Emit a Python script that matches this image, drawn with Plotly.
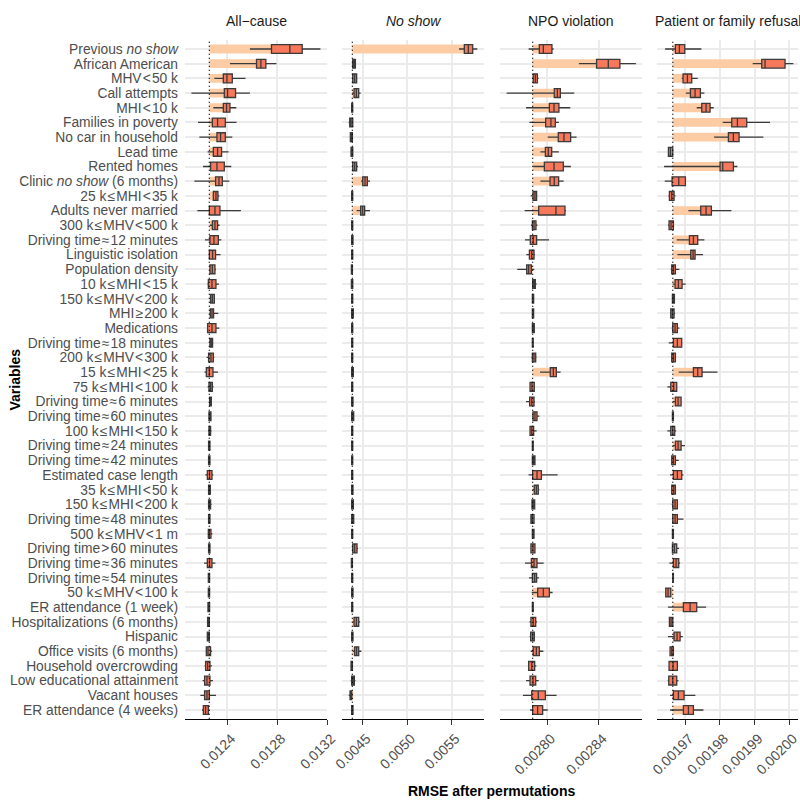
import plotly.graph_objects as go

HS = "\u200a"
variables = [
    "Previous <i>no show</i>", "African American", f"MHV{HS}&lt;{HS}50 k", "Call attempts",
    f"MHI{HS}&lt;{HS}10 k", "Families in poverty", "No car in household", "Lead time",
    "Rented homes", "Clinic <i>no show</i> (6 months)", f"25 k{HS}≤{HS}MHI{HS}&lt;{HS}35 k",
    "Adults never married", f"300 k{HS}≤{HS}MHV{HS}&lt;{HS}500 k", f"Driving time{HS}≈{HS}12 minutes",
    "Linguistic isolation", "Population density", f"10 k{HS}≤{HS}MHI{HS}&lt;{HS}15 k",
    f"150 k{HS}≤{HS}MHV{HS}&lt;{HS}200 k", f"MHI{HS}≥{HS}200 k", "Medications",
    f"Driving time{HS}≈{HS}18 minutes", f"200 k{HS}≤{HS}MHV{HS}&lt;{HS}300 k",
    f"15 k{HS}≤{HS}MHI{HS}&lt;{HS}25 k", f"75 k{HS}≤{HS}MHI{HS}&lt;{HS}100 k",
    f"Driving time{HS}≈{HS}6 minutes", f"Driving time{HS}≈{HS}60 minutes",
    f"100 k{HS}≤{HS}MHI{HS}&lt;{HS}150 k", f"Driving time{HS}≈{HS}24 minutes",
    f"Driving time{HS}≈{HS}42 minutes", "Estimated case length",
    f"35 k{HS}≤{HS}MHI{HS}&lt;{HS}50 k", f"150 k{HS}≤{HS}MHI{HS}&lt;{HS}200 k",
    f"Driving time{HS}≈{HS}48 minutes", f"500 k{HS}≤{HS}MHV{HS}&lt;{HS}1 m",
    f"Driving time{HS}&gt;{HS}60 minutes", f"Driving time{HS}≈{HS}36 minutes",
    f"Driving time{HS}≈{HS}54 minutes", f"50 k{HS}≤{HS}MHV{HS}&lt;{HS}100 k",
    "ER attendance (1 week)", "Hospitalizations (6 months)", "Hispanic",
    "Office visits (6 months)", "Household overcrowding", "Low educational attainment",
    "Vacant houses", "ER attendance (4 weeks)",
]

panel_titles = ["All\u2212cause", "<i>No show</i>", "NPO violation", "Patient or family refusal"]

# original (unpermuted) RMSE per outcome
baseline_rmse = [12255e-6, 4386e-6, 27887e-7, 196634e-8]

# ---- All-cause ----
allcause_low = [12580e-6,12420e-6,12295e-6,12111e-6,12287e-6,12164e-6,12175e-6,12241e-6,12204e-6,12135e-6,12281e-6,12159e-6,12260e-6,12220e-6,12249e-6,12255e-6,12239e-6,12260e-6,12255e-6,12236e-6,12257e-6,12233e-6,12217e-6,12241e-6,12252e-6,12249e-6,12244e-6,12244e-6,12247e-6,12223e-6,12247e-6,12244e-6,12247e-6,12241e-6,12247e-6,12212e-6,12244e-6,12244e-6,12241e-6,12236e-6,12233e-6,12225e-6,12217e-6,12201e-6,12183e-6,12196e-6]
allcause_q1 = [12753e-6,12633e-6,12367e-6,12375e-6,12367e-6,12279e-6,12316e-6,12287e-6,12265e-6,12305e-6,12287e-6,12255e-6,12279e-6,12260e-6,12255e-6,12260e-6,12247e-6,12265e-6,12263e-6,12241e-6,12260e-6,12249e-6,12231e-6,12252e-6,12257e-6,12252e-6,12252e-6,12249e-6,12249e-6,12239e-6,12249e-6,12249e-6,12249e-6,12247e-6,12249e-6,12239e-6,12247e-6,12247e-6,12244e-6,12241e-6,12239e-6,12231e-6,12225e-6,12217e-6,12217e-6,12207e-6]
allcause_med = [12900e-6,12668e-6,12396e-6,12401e-6,12393e-6,12321e-6,12345e-6,12321e-6,12316e-6,12332e-6,12308e-6,12300e-6,12300e-6,12292e-6,12281e-6,12279e-6,12276e-6,12279e-6,12276e-6,12276e-6,12271e-6,12268e-6,12255e-6,12265e-6,12263e-6,12260e-6,12257e-6,12255e-6,12255e-6,12257e-6,12255e-6,12257e-6,12255e-6,12255e-6,12255e-6,12257e-6,12252e-6,12252e-6,12249e-6,12249e-6,12247e-6,12244e-6,12241e-6,12236e-6,12236e-6,12225e-6]
allcause_q3 = [12999e-6,12708e-6,12439e-6,12465e-6,12420e-6,12383e-6,12383e-6,12353e-6,12375e-6,12359e-6,12324e-6,12340e-6,12321e-6,12327e-6,12305e-6,12300e-6,12308e-6,12295e-6,12289e-6,12308e-6,12281e-6,12287e-6,12284e-6,12279e-6,12271e-6,12268e-6,12265e-6,12260e-6,12260e-6,12276e-6,12263e-6,12265e-6,12260e-6,12268e-6,12260e-6,12276e-6,12257e-6,12257e-6,12257e-6,12255e-6,12255e-6,12265e-6,12260e-6,12260e-6,12255e-6,12247e-6]
allcause_high = [13145e-6,12793e-6,12545e-6,12580e-6,12471e-6,12473e-6,12439e-6,12409e-6,12431e-6,12415e-6,12335e-6,12508e-6,12337e-6,12351e-6,12345e-6,12308e-6,12332e-6,12300e-6,12327e-6,12335e-6,12287e-6,12295e-6,12324e-6,12289e-6,12276e-6,12271e-6,12273e-6,12265e-6,12263e-6,12287e-6,12268e-6,12273e-6,12263e-6,12279e-6,12263e-6,12303e-6,12260e-6,12260e-6,12260e-6,12260e-6,12260e-6,12276e-6,12276e-6,12284e-6,12308e-6,12255e-6]

# ---- No show ----
noshow_low = [5584e-6,4382e-6,4382e-6,4382e-6,4375e-6,4345e-6,4356e-6,4363e-6,4382e-6,4483e-6,4375e-6,4434e-6,4375e-6,4375e-6,4375e-6,4371e-6,4371e-6,4375e-6,4375e-6,4375e-6,4375e-6,4375e-6,4375e-6,4375e-6,4375e-6,4375e-6,4375e-6,4375e-6,4375e-6,4375e-6,4375e-6,4375e-6,4375e-6,4375e-6,4382e-6,4367e-6,4375e-6,4375e-6,4375e-6,4390e-6,4375e-6,4390e-6,4363e-6,4367e-6,4345e-6,4375e-6]
noshow_q1 = [5644e-6,4390e-6,4390e-6,4405e-6,4378e-6,4356e-6,4363e-6,4371e-6,4390e-6,4502e-6,4378e-6,4479e-6,4378e-6,4378e-6,4378e-6,4375e-6,4375e-6,4378e-6,4378e-6,4378e-6,4378e-6,4378e-6,4378e-6,4378e-6,4378e-6,4378e-6,4378e-6,4378e-6,4378e-6,4378e-6,4378e-6,4378e-6,4378e-6,4378e-6,4390e-6,4375e-6,4378e-6,4378e-6,4378e-6,4405e-6,4378e-6,4412e-6,4371e-6,4378e-6,4360e-6,4378e-6]
noshow_med = [5689e-6,4405e-6,4412e-6,4431e-6,4386e-6,4371e-6,4375e-6,4382e-6,4412e-6,4528e-6,4386e-6,4502e-6,4386e-6,4386e-6,4386e-6,4378e-6,4382e-6,4386e-6,4386e-6,4386e-6,4386e-6,4386e-6,4386e-6,4386e-6,4386e-6,4390e-6,4386e-6,4386e-6,4386e-6,4386e-6,4386e-6,4386e-6,4390e-6,4386e-6,4412e-6,4378e-6,4386e-6,4386e-6,4386e-6,4431e-6,4386e-6,4434e-6,4378e-6,4393e-6,4367e-6,4386e-6]
noshow_q3 = [5738e-6,4420e-6,4434e-6,4457e-6,4390e-6,4390e-6,4386e-6,4390e-6,4434e-6,4554e-6,4390e-6,4524e-6,4390e-6,4393e-6,4390e-6,4386e-6,4390e-6,4390e-6,4397e-6,4390e-6,4390e-6,4390e-6,4397e-6,4390e-6,4393e-6,4401e-6,4390e-6,4390e-6,4390e-6,4390e-6,4393e-6,4397e-6,4401e-6,4390e-6,4438e-6,4386e-6,4390e-6,4393e-6,4390e-6,4457e-6,4393e-6,4457e-6,4386e-6,4408e-6,4378e-6,4393e-6]
noshow_high = [5790e-6,4427e-6,4442e-6,4479e-6,4393e-6,4397e-6,4393e-6,4397e-6,4449e-6,4584e-6,4393e-6,4584e-6,4393e-6,4397e-6,4393e-6,4390e-6,4393e-6,4393e-6,4401e-6,4393e-6,4393e-6,4393e-6,4401e-6,4393e-6,4397e-6,4408e-6,4393e-6,4393e-6,4393e-6,4393e-6,4397e-6,4401e-6,4405e-6,4393e-6,4449e-6,4390e-6,4393e-6,4397e-6,4393e-6,4472e-6,4397e-6,4487e-6,4390e-6,4420e-6,4390e-6,4397e-6]

# ---- NPO violation ----
npo_low = [27856e-7,28246e-7,27882e-7,27686e-7,27836e-7,27862e-7,28004e-7,27947e-7,27892e-7,27947e-7,27872e-7,27825e-7,27874e-7,27828e-7,27838e-7,27768e-7,27882e-7,27882e-7,27882e-7,27882e-7,27882e-7,27877e-7,27944e-7,27862e-7,27836e-7,27882e-7,27862e-7,27882e-7,27882e-7,27856e-7,27887e-7,27880e-7,27869e-7,27882e-7,27869e-7,27828e-7,27859e-7,27880e-7,27882e-7,27862e-7,27864e-7,27872e-7,27851e-7,27836e-7,27812e-7,27867e-7]
npo_q1 = [27939e-7,28383e-7,27892e-7,28055e-7,28017e-7,27988e-7,28086e-7,27986e-7,27978e-7,28022e-7,27890e-7,27934e-7,27885e-7,27869e-7,27862e-7,27841e-7,27887e-7,27885e-7,27885e-7,27885e-7,27885e-7,27885e-7,28024e-7,27867e-7,27864e-7,27890e-7,27867e-7,27885e-7,27885e-7,27887e-7,27900e-7,27882e-7,27874e-7,27885e-7,27874e-7,27877e-7,27885e-7,27926e-7,27885e-7,27874e-7,27872e-7,27892e-7,27856e-7,27867e-7,27880e-7,27887e-7]
npo_med = [27970e-7,28474e-7,27908e-7,28079e-7,28053e-7,28029e-7,28130e-7,28009e-7,28053e-7,28055e-7,27905e-7,28068e-7,27898e-7,27892e-7,27880e-7,27856e-7,27898e-7,27890e-7,27890e-7,27892e-7,27887e-7,27898e-7,28048e-7,27882e-7,27880e-7,27905e-7,27880e-7,27887e-7,27895e-7,27921e-7,27916e-7,27892e-7,27885e-7,27890e-7,27890e-7,27898e-7,27903e-7,27970e-7,27887e-7,27892e-7,27887e-7,27916e-7,27880e-7,27890e-7,27931e-7,27926e-7]
npo_q3 = [28037e-7,28564e-7,27924e-7,28102e-7,28091e-7,28063e-7,28182e-7,28035e-7,28125e-7,28089e-7,27918e-7,28138e-7,27913e-7,27918e-7,27898e-7,27877e-7,27908e-7,27895e-7,27895e-7,27900e-7,27892e-7,27911e-7,28071e-7,27900e-7,27898e-7,27921e-7,27895e-7,27892e-7,27905e-7,27955e-7,27931e-7,27903e-7,27898e-7,27898e-7,27905e-7,27921e-7,27918e-7,28017e-7,27892e-7,27911e-7,27900e-7,27939e-7,27903e-7,27911e-7,27986e-7,27965e-7]
npo_high = [28050e-7,28688e-7,27934e-7,28210e-7,28179e-7,28091e-7,28228e-7,28091e-7,28184e-7,28128e-7,27924e-7,28146e-7,27924e-7,28014e-7,27905e-7,27900e-7,27918e-7,27898e-7,27898e-7,27905e-7,27895e-7,27918e-7,28104e-7,27905e-7,27905e-7,27939e-7,27918e-7,27895e-7,27908e-7,28081e-7,27939e-7,27905e-7,27903e-7,27900e-7,27908e-7,27973e-7,27936e-7,28042e-7,27895e-7,27921e-7,27905e-7,27970e-7,27916e-7,27934e-7,28073e-7,28004e-7]

# ---- Patient or family refusal ----
refusal_low = [196412e-8,198949e-8,196894e-8,197010e-8,197328e-8,198080e-8,197830e-8,196489e-8,196383e-8,196402e-8,196508e-8,197087e-8,196498e-8,196749e-8,196768e-8,196576e-8,196634e-8,196614e-8,196556e-8,196604e-8,196518e-8,196595e-8,196807e-8,196479e-8,196634e-8,196614e-8,196479e-8,196634e-8,196585e-8,196556e-8,196595e-8,196604e-8,196624e-8,196614e-8,196604e-8,196537e-8,196624e-8,196412e-8,196498e-8,196518e-8,196498e-8,196537e-8,196518e-8,196489e-8,196556e-8,196556e-8]
refusal_q1 = [196711e-8,199209e-8,196932e-8,197145e-8,197473e-8,198341e-8,198244e-8,196508e-8,198003e-8,196614e-8,196537e-8,197444e-8,196527e-8,197116e-8,197154e-8,196604e-8,196701e-8,196624e-8,196576e-8,196634e-8,196653e-8,196604e-8,197232e-8,196576e-8,196711e-8,196624e-8,196576e-8,196711e-8,196604e-8,196653e-8,196604e-8,196634e-8,196634e-8,196624e-8,196624e-8,196653e-8,196634e-8,196431e-8,196942e-8,196537e-8,196672e-8,196556e-8,196527e-8,196518e-8,196653e-8,196942e-8]
refusal_med = [196826e-8,199305e-8,197058e-8,197280e-8,197598e-8,198505e-8,198389e-8,196566e-8,198080e-8,196807e-8,196604e-8,197598e-8,196585e-8,197232e-8,197222e-8,196653e-8,196797e-8,196653e-8,196624e-8,196701e-8,196768e-8,196653e-8,197357e-8,196662e-8,196788e-8,196634e-8,196634e-8,196788e-8,196653e-8,196768e-8,196662e-8,196701e-8,196701e-8,196634e-8,196682e-8,196730e-8,196643e-8,196498e-8,197135e-8,196585e-8,196759e-8,196604e-8,196643e-8,196634e-8,196797e-8,197087e-8]
refusal_q3 = [196981e-8,199884e-8,197183e-8,197434e-8,197714e-8,198775e-8,198553e-8,196634e-8,198389e-8,197000e-8,196672e-8,197752e-8,196653e-8,197357e-8,197280e-8,196711e-8,196904e-8,196682e-8,196672e-8,196768e-8,196894e-8,196711e-8,197482e-8,196749e-8,196875e-8,196653e-8,196691e-8,196875e-8,196711e-8,196894e-8,196711e-8,196768e-8,196768e-8,196653e-8,196749e-8,196807e-8,196653e-8,196576e-8,197328e-8,196634e-8,196846e-8,196653e-8,196768e-8,196749e-8,196961e-8,197232e-8]
refusal_high = [197463e-8,200125e-8,197357e-8,197550e-8,197820e-8,199450e-8,199257e-8,196653e-8,198505e-8,197019e-8,196711e-8,198331e-8,196672e-8,197550e-8,197511e-8,196826e-8,197010e-8,196691e-8,196701e-8,196826e-8,196913e-8,196730e-8,197926e-8,196768e-8,196894e-8,196662e-8,196730e-8,196990e-8,196807e-8,196942e-8,196730e-8,196778e-8,196942e-8,196662e-8,196817e-8,196846e-8,196662e-8,196595e-8,197598e-8,196653e-8,196923e-8,196672e-8,196788e-8,196797e-8,197289e-8,197521e-8]

tick_vals = [
    [0.0124, 0.0128, 0.0132],
    [0.0045, 0.0050, 0.0055],
    [0.00280, 0.00284],
    [0.00197, 0.00198, 0.00199, 0.00200],
]
tick_text = [
    ["0.0124", "0.0128", "0.0132"],
    ["0.0045", "0.0050", "0.0055"],
    ["0.00280", "0.00284"],
    ["0.00197", "0.00198", "0.00199", "0.00200"],
]
x_ranges = [[0.01206, 0.0132], [0.004273, 0.005865], [0.0027634, 0.0028733], [0.0019617, 0.0020027]]
x_domains = [[0.23125, 0.4091], [0.4279, 0.605], [0.625, 0.8021], [0.8209, 0.998]]
y_domain = [0.1015, 0.94975]

panels = [
    (allcause_low, allcause_q1, allcause_med, allcause_q3, allcause_high),
    (noshow_low, noshow_q1, noshow_med, noshow_q3, noshow_high),
    (npo_low, npo_q1, npo_med, npo_q3, npo_high),
    (refusal_low, refusal_q1, refusal_med, refusal_q3, refusal_high),
]

BAR = "#FDCBA4"
BOX = "#F7785A"
EDGE = "#3A3A3A"
GRID = "#EBEBEB"
FONT = "Liberation Sans, Arial, sans-serif"

fig = go.Figure()
shapes = []
annotations = []
for i, (lo, q1, md, q3, hi) in enumerate(panels):
    xa = "x" if i == 0 else f"x{i+1}"
    ya = "y" if i == 0 else f"y{i+1}"
    base = baseline_rmse[i]
    fig.add_trace(go.Bar(
        y=variables, x=[m - base for m in md], base=base, orientation="h",
        marker=dict(color=BAR, line=dict(width=0)), width=0.6,
        xaxis=xa, yaxis=ya, showlegend=False, hoverinfo="skip",
    ))
    fig.add_trace(go.Box(
        y=variables, q1=q1, median=md, q3=q3, lowerfence=lo, upperfence=hi,
        orientation="h", fillcolor=BOX, line=dict(color=EDGE, width=1.3),
        whiskerwidth=0, width=0.6, boxpoints=False,
        xaxis=xa, yaxis=ya, showlegend=False, hoverinfo="skip",
    ))
    shapes.append(dict(
        type="line", xref=xa, yref="paper", x0=base, x1=base, y0=y_domain[0], y1=y_domain[1],
        line=dict(color="black", width=1.3, dash="1px,3px"), layer="above",
    ))
    annotations.append(dict(
        text=panel_titles[i], x=sum(x_domains[i]) / 2, y=1 - 21 / 800,
        xref="paper", yref="paper", showarrow=False, xanchor="center", yanchor="middle",
        font=dict(size=14, color="#1A1A1A", family=FONT),
    ))

annotations.append(dict(
    text="<b>RMSE after permutations</b>", x=(0.23125 + 0.998) / 2, y=1 - 791 / 800,
    xref="paper", yref="paper", showarrow=False, xanchor="center", yanchor="middle",
    font=dict(size=14, color="black", family=FONT),
))
annotations.append(dict(
    text="<b>Variables</b>", x=14 / 800, y=1 - 379.5 / 800, textangle=-90,
    xref="paper", yref="paper", showarrow=False, xanchor="center", yanchor="middle",
    font=dict(size=14, color="black", family=FONT),
))

layout = dict(
    width=800, height=800, margin=dict(l=0, r=0, t=0, b=0),
    paper_bgcolor="white", plot_bgcolor="white",
    font=dict(family=FONT, color="#4D4D4D"),
    boxmode="overlay", barmode="overlay",
    shapes=shapes, annotations=annotations, showlegend=False,
)
for i in range(4):
    xk = "xaxis" if i == 0 else f"xaxis{i+1}"
    yk = "yaxis" if i == 0 else f"yaxis{i+1}"
    layout[xk] = dict(
        domain=x_domains[i], range=x_ranges[i], anchor="y" if i == 0 else f"y{i+1}",
        tickmode="array", tickvals=tick_vals[i], ticktext=tick_text[i],
        tickangle=-45, tickfont=dict(size=14, color="#4D4D4D", family=FONT),
        ticklabelshift=4, ticklabeloverflow="allow",
        showgrid=True, gridcolor=GRID, gridwidth=1.8, zeroline=False,
        showline=True, linecolor="black", linewidth=1.2,
        ticks="outside", ticklen=5, tickcolor="#333333", tickwidth=1,
        automargin=False, fixedrange=True,
    )
    layout[yk] = dict(
        domain=y_domain, anchor="x" if i == 0 else f"x{i+1}",
        type="category", categoryorder="array", categoryarray=variables,
        tickmode="array", tickvals=variables, ticktext=variables,
        range=[45.6, -0.6], showgrid=True, gridcolor=GRID, gridwidth=1.8,
        zeroline=False, showline=False, showticklabels=(i == 0),
        tickfont=dict(size=13.8, color="#4D4D4D", family=FONT),
        ticks="", ticklabelstandoff=6, automargin=False, fixedrange=True,
    )
    if i > 0:
        layout[yk]["matches"] = "y"

fig.update_layout(**layout)
fig.write_html("out.html", config={"displayModeBar": False},
               post_script="document.body.style.margin='0';")
